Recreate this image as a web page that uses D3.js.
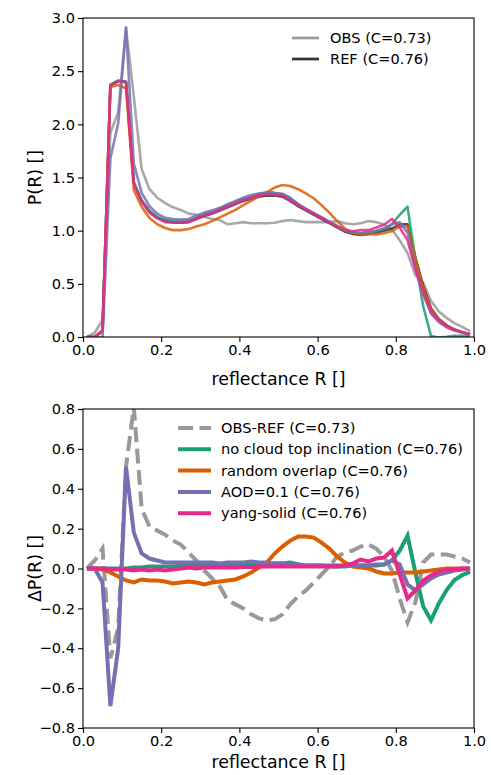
<!DOCTYPE html>
<html>
<head>
<meta charset="utf-8">
<script src="https://cdnjs.cloudflare.com/ajax/libs/d3/7.8.5/d3.min.js"></script>
<style>
  body { margin: 0; background: #fff; }
  text { font-family: "DejaVu Sans", sans-serif; }
</style>
</head>
<body>
<script>
// bin centres of reflectance R
var R = [0.01,0.03,0.05,0.07,0.09,0.11,0.13,0.15,0.17,0.19,0.21,0.23,0.25,0.27,0.29,0.31,0.33,0.35,0.37,0.39,
         0.41,0.43,0.45,0.47,0.49,0.51,0.53,0.55,0.57,0.59,0.61,0.63,0.65,0.67,0.69,0.71,0.73,0.75,0.77,0.79,
         0.81,0.83,0.85,0.87,0.89,0.91,0.93,0.95,0.97,0.99];

// reference simulation P(R)
var ref = [0.00,0.00,0.06,2.37,2.41,2.40,1.45,1.28,1.18,1.12,1.09,1.08,1.075,1.08,1.11,1.14,1.16,1.19,1.22,1.25,
           1.28,1.30,1.32,1.33,1.33,1.32,1.28,1.23,1.19,1.15,1.11,1.07,1.03,0.99,0.97,0.96,0.97,0.98,1.00,1.02,
           1.06,1.06,0.75,0.48,0.27,0.17,0.11,0.07,0.045,0.025];

// differences to REF
var dObs = [0.00,0.04,0.10,-0.45,-0.30,0.51,0.81,0.30,0.21,0.19,0.17,0.14,0.12,0.08,0.04,-0.01,-0.05,-0.09,-0.16,-0.18,
            -0.20,-0.23,-0.25,-0.26,-0.255,-0.23,-0.18,-0.14,-0.11,-0.07,-0.03,0.01,0.06,0.08,0.09,0.11,0.12,0.10,0.06,-0.01,
            -0.15,-0.27,-0.17,0.03,0.07,0.07,0.07,0.06,0.05,0.03];
var dNoIncl = [0.00,0.00,0.00,0.00,0.00,0.00,0.005,0.005,0.01,0.01,0.01,0.01,0.015,0.015,0.015,0.015,0.015,0.02,0.02,0.02,
               0.02,0.02,0.025,0.025,0.025,0.025,0.03,0.02,0.015,0.015,0.015,0.01,0.01,0.01,0.015,0.015,0.015,0.015,0.02,0.04,
               0.09,0.165,-0.02,-0.19,-0.26,-0.175,-0.108,-0.058,-0.033,-0.016];
var dRandom = [0.00,0.00,-0.005,-0.02,-0.04,-0.06,-0.07,-0.055,-0.06,-0.06,-0.065,-0.075,-0.07,-0.065,-0.07,-0.08,-0.07,-0.065,-0.06,-0.055,
               -0.04,-0.02,0.005,0.03,0.075,0.11,0.14,0.16,0.16,0.155,0.13,0.10,0.06,0.03,0.01,0.005,0.00,-0.015,-0.025,-0.025,
               -0.02,-0.02,-0.02,-0.015,-0.01,-0.005,0.00,0.00,0.00,0.00];
var dAod = [0.00,0.00,-0.07,-0.69,-0.40,0.51,0.18,0.075,0.05,0.04,0.03,0.03,0.03,0.03,0.03,0.03,0.03,0.025,0.03,0.03,
            0.03,0.035,0.03,0.03,0.025,0.025,0.02,0.02,0.015,0.015,0.015,0.015,0.015,0.015,0.015,0.015,0.015,0.02,0.02,0.04,
            0.02,-0.08,-0.11,-0.08,-0.05,-0.03,-0.02,-0.01,-0.005,0.00];
var dYang = [0.00,0.00,0.00,-0.005,-0.005,-0.005,-0.01,-0.005,-0.01,-0.005,-0.01,-0.005,0.00,0.005,0.00,0.005,0.005,0.005,0.005,0.005,
             0.008,0.008,0.01,0.01,0.01,0.01,0.01,0.01,0.01,0.01,0.01,0.01,0.01,0.015,0.025,0.045,0.035,0.05,0.055,0.09,
             -0.03,-0.15,-0.11,-0.06,-0.035,-0.015,-0.008,-0.004,0.00,0.00];

var xTicks = [0.0,0.2,0.4,0.6,0.8,1.0];
var yTicksTop = [0.0,0.5,1.0,1.5,2.0,2.5,3.0];
var yTicksBot = [-0.8,-0.6,-0.4,-0.2,0.0,0.2,0.4,0.6,0.8];

var width = 491, height = 775;
var x0 = 83, x1 = 474;

var svg = d3.select('body').append('svg')
            .attr('width', width).attr('height', height);

var x = d3.scaleLinear().domain([0, 1]).range([x0, x1]);
var yTop = d3.scaleLinear().domain([0, 3]).range([337, 18]);
var yBot = d3.scaleLinear().domain([-0.8, 0.8]).range([728, 409]);

function fmt(d) { return d3.format('.1f')(d).replace('-', '\u2212'); }

function drawAxes(y, ticks, ylab, top, bottom, labY) {
  var g = svg.append('g');
  g.append('g').attr('transform', 'translate(0,' + bottom + ')')
    .call(d3.axisBottom(x).tickValues(xTicks).tickFormat(fmt).tickSize(5).tickPadding(3));
  g.append('g').attr('transform', 'translate(' + x0 + ',0)')
    .call(d3.axisLeft(y).tickValues(ticks).tickFormat(fmt).tickSize(5).tickPadding(3));
  g.selectAll('.domain').remove();
  g.selectAll('.tick line').attr('stroke', '#000').attr('stroke-width', 1.1);
  g.selectAll('.tick text').attr('fill', '#000').style('font-size', '14.6px')
   .style('font-family', '"DejaVu Sans", sans-serif');
  g.append('rect').attr('x', x0).attr('y', top).attr('width', x1 - x0).attr('height', bottom - top)
    .attr('fill', 'none').attr('stroke', '#000').attr('stroke-width', 1.1);
  g.append('text').attr('x', (x0 + x1) / 2).attr('y', labY)
    .attr('text-anchor', 'middle').style('font-size', '17.4px').text('reflectance R []');
  g.append('text').attr('transform', 'translate(41,' + (top + bottom) / 2 + ') rotate(-90)')
    .attr('text-anchor', 'middle').style('font-size', '17.4px').text(ylab);
}

var defs = svg.append('defs');
defs.append('clipPath').attr('id', 'clipTop').append('rect')
  .attr('x', x0).attr('y', 18).attr('width', x1 - x0).attr('height', 319);
defs.append('clipPath').attr('id', 'clipBot').append('rect')
  .attr('x', x0).attr('y', 409).attr('width', x1 - x0).attr('height', 319);

// upper panel
function addRef(d) { return d.map(function(v, i) { return ref[i] + v; }); }
var topSeries = [
  {name: 'OBS (C=0.73)', vals: addRef(dObs), color: '#999999', legend: true},
  {name: 'REF (C=0.76)', vals: ref, color: '#333333', legend: true},
  {vals: addRef(dNoIncl), color: '#1b9e77'},
  {vals: addRef(dRandom), color: '#d95f02'},
  {vals: addRef(dAod), color: '#7570b3'},
  {vals: addRef(dYang), color: '#e7298a'}
];

var lineTop = d3.line().x(function(d, i) { return x(R[i]); }).y(function(d) { return yTop(d); });
var gt = svg.append('g').attr('clip-path', 'url(#clipTop)');
gt.selectAll('path').data(topSeries).enter().append('path')
  .attr('d', function(s) { return lineTop(s.vals); })
  .attr('fill', 'none').attr('stroke', function(s) { return s.color; })
  .attr('stroke-opacity', 0.85).attr('stroke-width', 2.6).attr('stroke-linejoin', 'round');

drawAxes(yTop, yTicksTop, 'P(R) []', 18, 337, 385);

var legTop = svg.append('g').selectAll('g')
  .data(topSeries.filter(function(s) { return s.legend; })).enter().append('g')
  .attr('transform', function(d, i) { return 'translate(292,' + (38 + i * 21) + ')'; });
legTop.append('line').attr('x1', 0).attr('x2', 27)
  .attr('stroke', function(d) { return d.color; }).attr('stroke-width', 2.7);
legTop.append('text').attr('x', 38).attr('dy', '0.35em').style('font-size', '14.6px')
  .text(function(d) { return d.name; });

// lower panel
var botSeries = [
  {name: 'OBS-REF (C=0.73)', vals: dObs, color: '#999999', dash: '15,6.5'},
  {name: 'no cloud top inclination (C=0.76)', vals: dNoIncl, color: '#1b9e77'},
  {name: 'random overlap (C=0.76)', vals: dRandom, color: '#d95f02'},
  {name: 'AOD=0.1 (C=0.76)', vals: dAod, color: '#7570b3'},
  {name: 'yang-solid (C=0.76)', vals: dYang, color: '#e7298a'}
];

var lineBot = d3.line().x(function(d, i) { return x(R[i]); }).y(function(d) { return yBot(d); });
var gb = svg.append('g').attr('clip-path', 'url(#clipBot)');
gb.selectAll('path').data(botSeries).enter().append('path')
  .attr('d', function(s) { return lineBot(s.vals); })
  .attr('fill', 'none').attr('stroke', function(s) { return s.color; })
  .attr('stroke-width', 4).attr('stroke-dasharray', function(s) { return s.dash || null; });

drawAxes(yBot, yTicksBot, '\u0394P(R) []', 409, 728, 768);

var legBot = svg.append('g').selectAll('g')
  .data(botSeries).enter().append('g')
  .attr('transform', function(d, i) { return 'translate(178,' + (428 + i * 21.3) + ')'; });
legBot.append('line').attr('x1', 0).attr('x2', 33)
  .attr('stroke', function(d) { return d.color; }).attr('stroke-width', 4)
  .attr('stroke-dasharray', function(d) { return d.dash || null; });
legBot.append('text').attr('x', 43).attr('dy', '0.35em').style('font-size', '14.6px')
  .text(function(d) { return d.name; });
</script>
</body>
</html>
